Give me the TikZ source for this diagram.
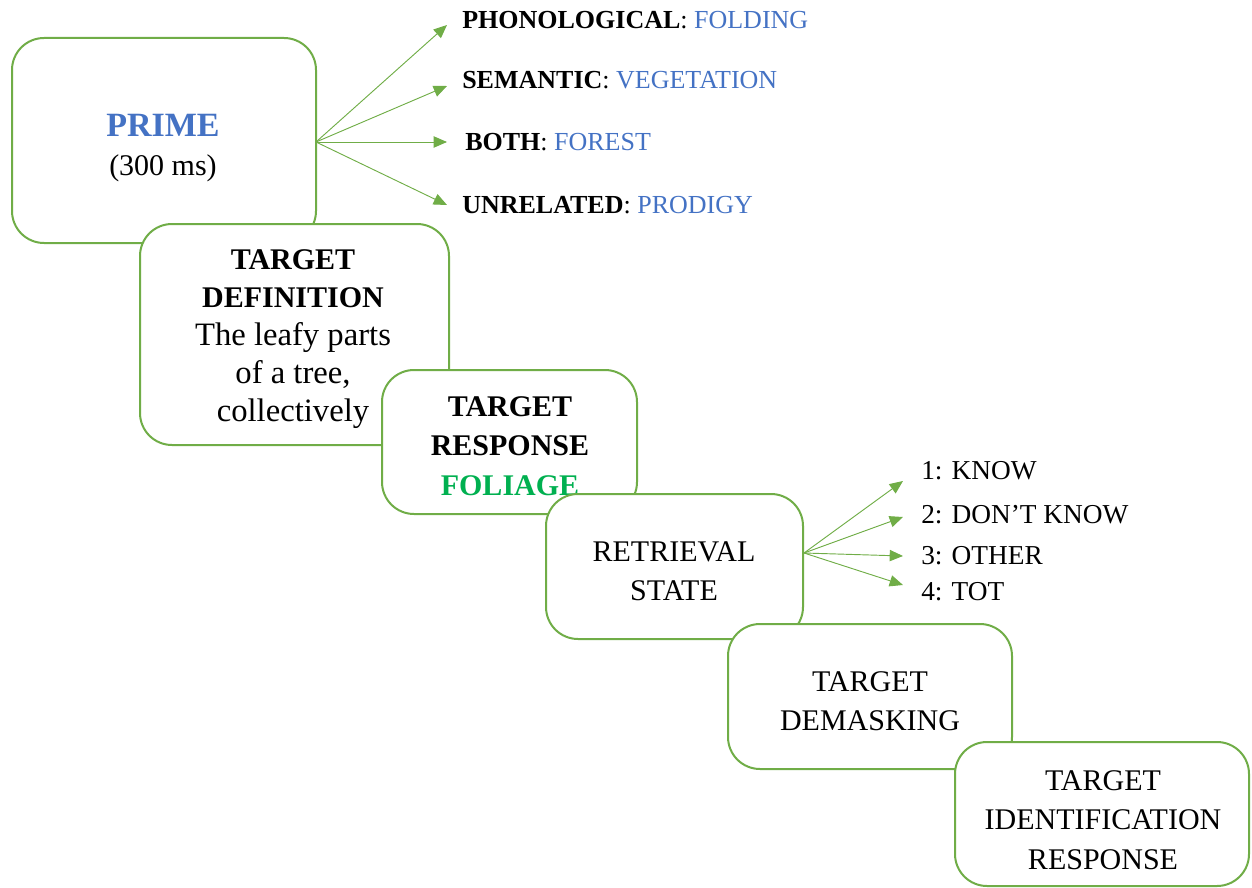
\documentclass[tikz,border=0pt]{standalone}
\usepackage{fontspec}
\setmainfont{Liberation Serif}
\usetikzlibrary{arrows.meta}
\definecolor{boxgreen}{HTML}{70AD47}
\definecolor{primeblue}{HTML}{4472C4}
\definecolor{leafgreen}{HTML}{00B050}
\begin{document}
\begin{tikzpicture}[x=0.75pt,y=-0.75pt,
  stage/.style={draw=boxgreen,line width=1.5pt,fill=white,rounded corners=24pt,
    inner sep=0pt,outer sep=0pt},
  stagetext/.style={align=center,inner sep=0pt,
    font=\fontsize{22.5}{29.5}\selectfont},
  fan/.style={draw=boxgreen,line width=0.7pt,-{Triangle[length=10pt,width=8.5pt]}},
  primelabel/.style={anchor=west,inner sep=0pt,font=\fontsize{19.5}{24}\selectfont},
  statelabel/.style={anchor=west,inner sep=0pt,font=\fontsize{20.5}{24}\selectfont}]
\useasboundingbox (0,0) rectangle (1252,888);

% stages, each drawn over the previous one, with its text
\node[stage,minimum width=228pt,minimum height=153.75pt] (prime) at (164,140.5) {};
\node[stagetext] (primetext) at (163,148)
  {{\fontsize{25.5}{30}\selectfont\bfseries\color{primeblue}PRIME}\\(300 ms)};
\node[stage,minimum width=231.75pt,minimum height=165.75pt] (definition) at (294.5,334.5) {};
\node[stagetext,font=\fontsize{22.5}{28.5}\selectfont] (definitiontext) at (293,339)
  {\textbf{TARGET}\\\textbf{DEFINITION}\\
   {\fontsize{24.5}{28.5}\selectfont The leafy parts}\\
   {\fontsize{24.5}{28.5}\selectfont of a tree,}\\
   {\fontsize{24.5}{28.5}\selectfont collectively}};
\node[stage,minimum width=191.25pt,minimum height=108pt] (response) at (509.5,442) {};
\node[stagetext] (responsetext) at (510,446)
  {\textbf{TARGET}\\\textbf{RESPONSE}\\\textbf{\color{leafgreen}FOLIAGE}};
\node[stage,minimum width=192.75pt,minimum height=108.75pt] (retrieval) at (674.5,566.5) {};
\node[stagetext] (retrievaltext) at (674,571) {RETRIEVAL\\STATE};
\node[stage,minimum width=213pt,minimum height=108.75pt] (demasking) at (870,696.5) {};
\node[stagetext] (demaskingtext) at (870,701) {TARGET\\DEMASKING};
\node[stage,minimum width=220.5pt,minimum height=108pt] (identification) at (1102,814) {};
\node[stagetext] (identificationtext) at (1103,820)
  {TARGET\\IDENTIFICATION\\RESPONSE};

% prime conditions
\coordinate (pOut) at (316,142);
\coordinate (p1) at (447,25);
\coordinate (p2) at (447,86);
\coordinate (p3) at (447,142);
\coordinate (p4) at (447,205);
\node[primelabel] (phon) at (462,20) {\textbf{PHONOLOGICAL}: \color{primeblue}FOLDING};
\node[primelabel] (sem) at (462,80) {\textbf{SEMANTIC}: \color{primeblue}VEGETATION};
\node[primelabel] (both) at (465,142) {\textbf{BOTH}: \color{primeblue}FOREST};
\node[primelabel] (unrel) at (462,205) {\textbf{UNRELATED}: \color{primeblue}PRODIGY};
\foreach \t in {p1,p2,p3,p4} \draw[fan] (pOut) -- (\t);

% retrieval states
\coordinate (rOut) at (804,553);
\coordinate (r1) at (903,481);
\coordinate (r2) at (903,517);
\coordinate (r3) at (903,556);
\coordinate (r4) at (903,585);
\node[statelabel] (know) at (921,471) {1: KNOW};
\node[statelabel] (dontknow) at (921,515) {2: DON’T KNOW};
\node[statelabel] (other) at (921,556) {3: OTHER};
\node[statelabel] (tot) at (921,592) {4: TOT};
\foreach \t in {r1,r2,r3,r4} \draw[fan] (rOut) -- (\t);
\end{tikzpicture}
\end{document}
